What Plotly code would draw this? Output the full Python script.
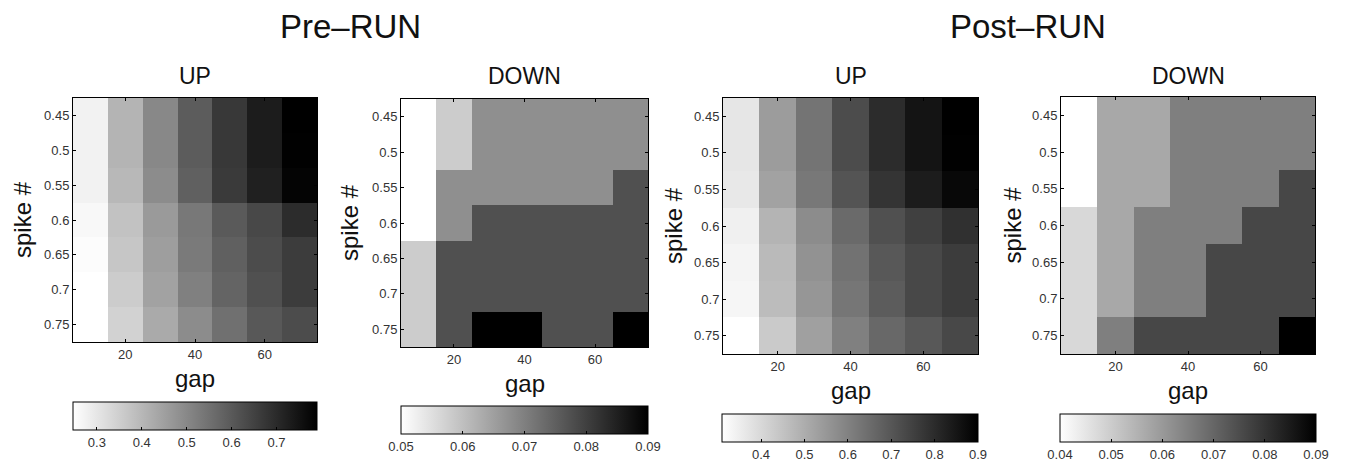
import plotly.graph_objects as go

# ---- data -------------------------------------------------------------
gaps = [10, 20, 30, 40, 50, 60, 70]
spikes = [0.45, 0.5, 0.55, 0.6, 0.65, 0.7, 0.75]
spike_ticks = ["0.45", "0.5", "0.55", "0.6", "0.65", "0.7", "0.75"]
gap_ticks = [20, 40, 60]

# rows: spike # (0.45 -> 0.75), columns: gap (10 -> 70)
pre_up = [
    [0.275, 0.407, 0.500, 0.594, 0.671, 0.730, 0.790],
    [0.275, 0.407, 0.500, 0.594, 0.671, 0.730, 0.788],
    [0.275, 0.398, 0.492, 0.586, 0.667, 0.722, 0.782],
    [0.262, 0.377, 0.462, 0.535, 0.598, 0.637, 0.696],
    [0.253, 0.368, 0.454, 0.530, 0.586, 0.628, 0.662],
    [0.248, 0.356, 0.445, 0.518, 0.577, 0.620, 0.662],
    [0.247, 0.343, 0.428, 0.492, 0.552, 0.603, 0.628],
]
pre_down = [
    [0.050, 0.058, 0.0675, 0.0675, 0.0675, 0.0675, 0.0675],
    [0.050, 0.058, 0.0675, 0.0675, 0.0675, 0.0675, 0.0675],
    [0.050, 0.0675, 0.0675, 0.0675, 0.0675, 0.0675, 0.0775],
    [0.050, 0.0675, 0.0775, 0.0775, 0.0775, 0.0775, 0.0775],
    [0.058, 0.0775, 0.0775, 0.0775, 0.0775, 0.0775, 0.0775],
    [0.058, 0.0775, 0.0775, 0.0775, 0.0775, 0.0775, 0.0775],
    [0.058, 0.0775, 0.090, 0.090, 0.0775, 0.0775, 0.090],
]
post_up = [
    [0.368, 0.539, 0.632, 0.724, 0.798, 0.854, 0.900],
    [0.368, 0.539, 0.632, 0.724, 0.798, 0.854, 0.898],
    [0.363, 0.525, 0.622, 0.706, 0.780, 0.835, 0.882],
    [0.345, 0.484, 0.576, 0.655, 0.715, 0.752, 0.789],
    [0.335, 0.470, 0.562, 0.636, 0.696, 0.733, 0.761],
    [0.331, 0.465, 0.553, 0.627, 0.687, 0.733, 0.761],
    [0.310, 0.433, 0.530, 0.604, 0.659, 0.696, 0.733],
]
post_down = [
    [0.040, 0.057, 0.057, 0.065, 0.065, 0.065, 0.065],
    [0.040, 0.057, 0.057, 0.065, 0.065, 0.065, 0.065],
    [0.040, 0.057, 0.057, 0.065, 0.065, 0.065, 0.076],
    [0.0476, 0.057, 0.065, 0.065, 0.065, 0.076, 0.076],
    [0.0476, 0.057, 0.065, 0.065, 0.076, 0.076, 0.076],
    [0.0476, 0.057, 0.065, 0.065, 0.076, 0.076, 0.076],
    [0.0476, 0.065, 0.076, 0.076, 0.076, 0.076, 0.090],
]

panel_titles = ["UP", "DOWN", "UP", "DOWN"]
group_titles = ["Pre\u2013RUN", "Post\u2013RUN"]
color_ranges = [(0.247, 0.79), (0.05, 0.09), (0.31, 0.9), (0.04, 0.09)]
cbar_ticks = [
    [0.3, 0.4, 0.5, 0.6, 0.7],
    [0.05, 0.06, 0.07, 0.08, 0.09],
    [0.4, 0.5, 0.6, 0.7, 0.8, 0.9],
    [0.04, 0.05, 0.06, 0.07, 0.08, 0.09],
]
cbar_ticktext = [
    ["0.3", "0.4", "0.5", "0.6", "0.7"],
    ["0.05", "0.06", "0.07", "0.08", "0.09"],
    ["0.4", "0.5", "0.6", "0.7", "0.8", "0.9"],
    ["0.04", "0.05", "0.06", "0.07", "0.08", "0.09"],
]
panels = [pre_up, pre_down, post_up, post_down]

# ---- layout geometry (pixels) ------------------------------------------
W, H = 1346, 466
# axes boxes: (left, right, top, bottom)
boxes = [(73, 317, 98, 342), (401, 648, 99, 347), (723, 978, 98, 354), (1061, 1315, 97, 354)]
# colorbar boxes: (left, right, top, bottom)
cboxes = [(73, 317, 402, 430), (401, 648, 406, 434), (722, 978, 414, 442), (1060, 1316, 414, 442)]
ylabel_x = [22, 349, 673, 1012]


def px(x):
    return x / W


def py(y):
    return 1 - y / H


FONT = "Liberation Sans, Arial, Helvetica, sans-serif"
gray_scale = [[0.0, "#ffffff"], [1.0, "#000000"]]

fig = go.Figure()
layout = dict(
    width=W, height=H,
    margin=dict(l=0, r=0, t=0, b=0),
    paper_bgcolor="white", plot_bgcolor="white",
    font=dict(family=FONT, color="#222222"),
    showlegend=False,
    annotations=[],
)

for i, z in enumerate(panels):
    n = "" if i == 0 else str(i + 1)
    l, r, t, b = boxes[i]
    cl, cr, ct, cb = cboxes[i]
    fig.add_trace(go.Heatmap(
        z=z, x=gaps, y=spikes,
        coloraxis="coloraxis" + n,
        xaxis="x" + n, yaxis="y" + n,
        hoverinfo="skip",
    ))
    layout["xaxis" + n] = dict(
        domain=[px(l), px(r)], anchor="y" + n,
        range=[5, 75], tickvals=gap_ticks,
        ticks="inside", ticklen=3, tickcolor="#000",
        showline=True, linecolor="#000", linewidth=1, mirror="ticks",
        showgrid=False, zeroline=False,
        tickfont=dict(size=13, color="#333333"),
    )
    layout["yaxis" + n] = dict(
        domain=[py(b), py(t)], anchor="x" + n,
        range=[0.775, 0.425], tickvals=spikes, ticktext=spike_ticks,
        ticks="inside", ticklen=3, tickcolor="#000",
        showline=True, linecolor="#000", linewidth=1, mirror="ticks",
        showgrid=False, zeroline=False,
        tickfont=dict(size=13, color="#333333"),
    )
    cmin, cmax = color_ranges[i]
    layout["coloraxis" + n] = dict(
        colorscale=gray_scale, cmin=cmin, cmax=cmax,
        colorbar=dict(
            orientation="h",
            x=px((cl + cr) / 2), xanchor="center",
            y=py(ct), yanchor="top",
            len=(cr - cl) / W, lenmode="fraction",
            thickness=cb - ct, thicknessmode="pixels",
            xpad=0, ypad=0,
            outlinewidth=1, outlinecolor="#000",
            ticks="inside", ticklen=3, tickcolor="#000",
            tickvals=cbar_ticks[i], ticktext=cbar_ticktext[i],
            tickfont=dict(size=13, color="#333333"),
        ),
    )
    # panel title
    layout["annotations"].append(dict(
        text=panel_titles[i], x=px((l + r) / 2), y=py(76),
        xref="paper", yref="paper", xanchor="center", yanchor="middle",
        showarrow=False, font=dict(size=23, color="#111111"),
    ))
    # x label
    layout["annotations"].append(dict(
        text="gap", x=px((l + r) / 2), y=py(b + 36),
        xref="paper", yref="paper", xanchor="center", yanchor="middle",
        showarrow=False, font=dict(size=24, color="#111111"),
    ))
    # y label
    layout["annotations"].append(dict(
        text="spike #", x=px(ylabel_x[i]), y=py((t + b) / 2),
        xref="paper", yref="paper", xanchor="center", yanchor="middle",
        textangle=-90, showarrow=False, font=dict(size=24, color="#111111"),
    ))

# group headings
for txt, cx in zip(group_titles, [350, 1028]):
    layout["annotations"].append(dict(
        text=txt, x=px(cx), y=py(26),
        xref="paper", yref="paper", xanchor="center", yanchor="middle",
        showarrow=False, font=dict(size=33, color="#111111"),
    ))

fig.update_layout(**layout)
fig.write_html("out.html")
